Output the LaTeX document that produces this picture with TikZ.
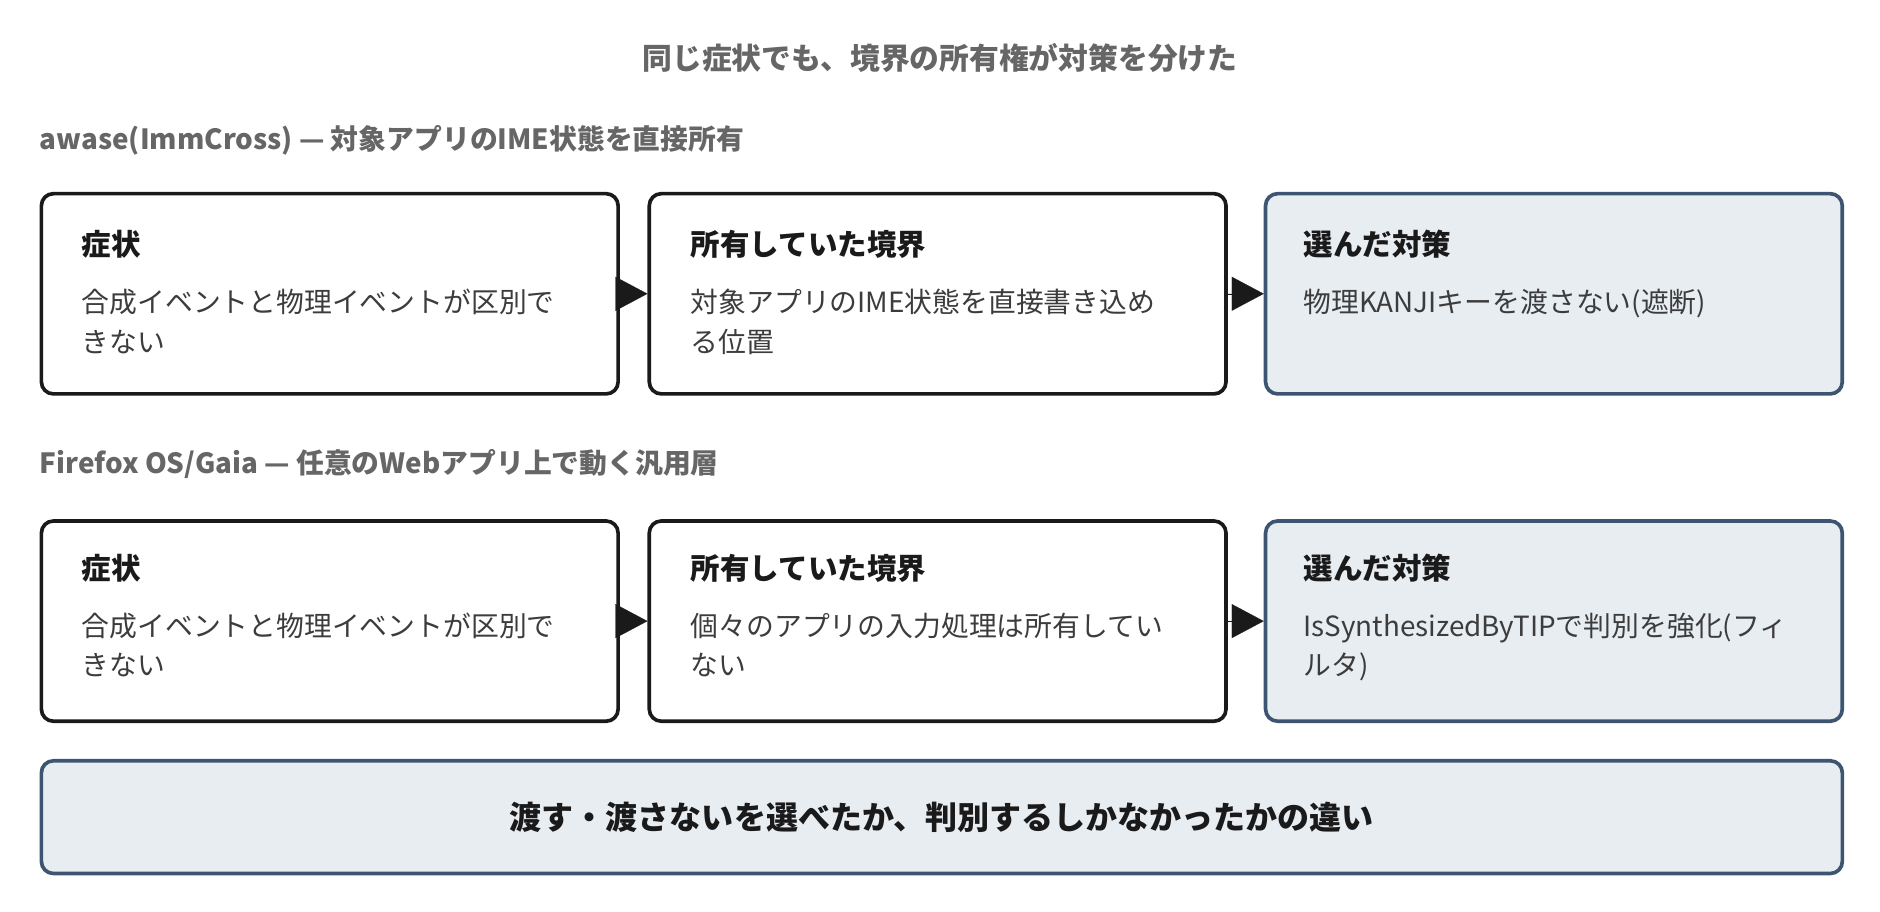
\documentclass[tikz,border=0pt]{standalone}
\usepackage{fontspec}
\setmainfont{Noto Sans CJK JP}
\usetikzlibrary{arrows.meta,positioning}
\definecolor{inkdark}{HTML}{1A1A1A}
\definecolor{slateline}{HTML}{3D5570}
\definecolor{slatefill}{HTML}{E8EDF2}
\definecolor{greytext}{HTML}{666666}

\begin{document}
\begin{tikzpicture}[x=0.03cm,y=-0.03cm,
    box/.style={draw=inkdark, line width=2.6pt, rounded corners=0.3cm, fill=white,
      minimum width=14.43cm, minimum height=5.01cm, anchor=north west},
    pick/.style={box, draw=slateline, fill=slatefill},
    head/.style={anchor=west, inner sep=0pt, font=\fontsize{21}{25}\selectfont\bfseries, text=inkdark},
    body/.style={anchor=north west, inner sep=0pt, align=left, font=\fontsize{19.8}{28}\selectfont, text=inkdark!85},
    section/.style={anchor=west, inner sep=0pt, font=\fontsize{19.8}{24}\selectfont\bfseries, text=greytext},
    link/.style={-{Triangle[length=0.8cm,width=0.85cm]}, line width=0.1pt, draw=inkdark, fill=inkdark, shorten <=-0.1cm}]
  \useasboundingbox (0,0) rectangle (1568,760);

  % title and section labels
  \node[font=\fontsize{21.2}{25}\selectfont\bfseries, text=greytext] (title) at (784,48) {同じ症状でも、境界の所有権が対策を分けた};
  \node[section] (secA) at (33,117) {awase(ImmCross) — 対象アプリのIME状態を直接所有};
  \node[section] (secB) at (33,387) {Firefox OS/Gaia — 任意のWebアプリ上で動く汎用層};

  % row 1
  \node[box] (symA) at (33,160) {};
  \node[box] (ownA) at (540,160) {};
  \node[pick] (fixA) at (1054,160) {};
  \node[head] at (68,204) {症状};
  \node[body] at (68,241) {合成イベントと物理イベントが区別で\\きない};
  \node[head] at (576,204) {所有していた境界};
  \node[body] at (576,241) {対象アプリのIME状態を直接書き込め\\る位置};
  \node[head] at (1087,204) {選んだ対策};
  \node[body] at (1087,241) {物理KANJIキーを渡さない(遮断)};
  \draw[link] (symA.east) -- (ownA.west);
  \draw[link] (ownA.east) -- (fixA.west);

  % row 2
  \node[box] (symB) at (33,433) {};
  \node[box] (ownB) at (540,433) {};
  \node[pick] (fixB) at (1054,433) {};
  \node[head] at (68,474) {症状};
  \node[body] at (68,511) {合成イベントと物理イベントが区別で\\きない};
  \node[head] at (576,474) {所有していた境界};
  \node[body] at (576,511) {個々のアプリの入力処理は所有してい\\ない};
  \node[head] at (1087,474) {選んだ対策};
  \node[body] at (1087,511) {IsSynthesizedByTIPで判別を強化(フィ\\ルタ)};
  \draw[link] (symB.east) -- (ownB.west);
  \draw[link] (ownB.east) -- (fixB.west);

  % summary
  \node[pick, minimum width=45.06cm, minimum height=2.82cm,
    font=\fontsize{22.8}{27}\selectfont\bfseries, text=inkdark] (gist) at (33,633)
    {渡す・渡さないを選べたか、判別するしかなかったかの違い};
\end{tikzpicture}
\end{document}
